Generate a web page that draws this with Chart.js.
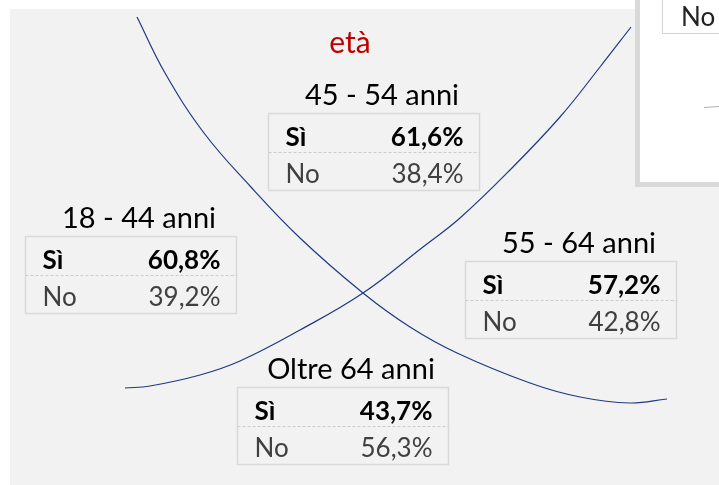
<!DOCTYPE html>
<html>
<head>
<meta charset="utf-8">
<script src="https://cdn.jsdelivr.net/npm/chart.js@4"></script>
<style>
  html, body { margin: 0; padding: 0; background: #ffffff; }
  canvas { display: block; }
</style>
</head>
<body>
<canvas id="chart" width="719" height="485"></canvas>
<script>
// data
const chartTitle = "età";
const groups = ["18 - 44 anni", "45 - 54 anni", "55 - 64 anni", "Oltre 64 anni"];
const rowLabels = ["Sì", "No"];
const siValues = [60.8, 61.6, 57.2, 43.7];
const noValues = [39.2, 38.4, 42.8, 56.3];

// the two crossing arcs
const arcDown = [
  { x: 137, y: 17 }, { x: 165, y: 73 }, { x: 204, y: 133 }, { x: 250, y: 186 },
  { x: 300, y: 238 }, { x: 363, y: 293 }, { x: 410, y: 327 }, { x: 457, y: 353 },
  { x: 530, y: 383 }, { x: 580, y: 397 }, { x: 630, y: 403 }, { x: 667, y: 399 },
];
const arcUp = [
  { x: 125, y: 388 }, { x: 150, y: 386 }, { x: 200, y: 375 }, { x: 240, y: 361 },
  { x: 300, y: 330 }, { x: 363, y: 293 }, { x: 423, y: 247 }, { x: 460, y: 218 },
  { x: 510, y: 170 }, { x: 560, y: 117 }, { x: 600, y: 67 }, { x: 631, y: 27 },
];

// layout (anchors of each table, in the same units as the scales)
const tableAnchors = [
  { x: 25, y: 236 },
  { x: 268, y: 113 },
  { x: 465, y: 261 },
  { x: 237, y: 387 },
];
const TABLE_W = 211;
const TABLE_H = 77;
const FONT = "Lato, 'Open Sans', sans-serif";

const fmt = (v) => v.toFixed(1).replace(".", ",") + "%";

const backgroundPlugin = {
  id: "panelBg",
  beforeDatasetsDraw(chart) {
    const { ctx, scales } = chart;
    const px = (v) => scales.x.getPixelForValue(v);
    const py = (v) => scales.y.getPixelForValue(v);
    ctx.save();
    // grey panel
    ctx.fillStyle = "#f2f2f2";
    ctx.fillRect(px(10), py(9), px(719) - px(10), py(485) - py(9));
    // white box of the neighbouring figure, top right
    ctx.fillStyle = "#d9d9d9";
    ctx.fillRect(px(635), py(0), px(719) - px(635), py(187) - py(0));
    ctx.fillStyle = "#ffffff";
    ctx.fillRect(px(640), py(0), px(719) - px(640), py(182) - py(0));
    ctx.strokeStyle = "#d4d4d4";
    ctx.lineWidth = 1;
    ctx.beginPath();
    ctx.moveTo(px(662) + 0.5, py(0));
    ctx.lineTo(px(662) + 0.5, py(33) + 0.5);
    ctx.lineTo(px(719), py(33) + 0.5);
    ctx.stroke();
    ctx.fillStyle = "#222222";
    ctx.font = "26px " + FONT;
    ctx.textAlign = "left";
    ctx.textBaseline = "alphabetic";
    ctx.fillText("No", px(681), py(26));
    ctx.strokeStyle = "#b0b0b0";
    ctx.beginPath();
    ctx.moveTo(px(704), py(107) + 0.5);
    ctx.lineTo(px(719), py(106) + 0.5);
    ctx.stroke();
    ctx.restore();
  },
};

const tablesPlugin = {
  id: "ageTables",
  afterDatasetsDraw(chart) {
    const { ctx, scales } = chart;
    const px = (v) => scales.x.getPixelForValue(v);
    const py = (v) => scales.y.getPixelForValue(v);
    ctx.save();
    ctx.textBaseline = "alphabetic";

    // title
    ctx.fillStyle = "#c00000";
    ctx.font = "30px " + FONT;
    ctx.textAlign = "center";
    ctx.fillText(chartTitle, px(350), py(53));

    groups.forEach((g, i) => {
      const a = tableAnchors[i];
      const x = Math.round(px(a.x)) + 0.5;
      const y = Math.round(py(a.y)) + 0.5;

      ctx.fillStyle = "#000000";
      ctx.font = "29px " + FONT;
      ctx.textAlign = "center";
      ctx.fillText(g, x + TABLE_W / 2 + 8, y - 9);

      ctx.strokeStyle = "#d9d9d9";
      ctx.lineWidth = 1.5;
      ctx.setLineDash([]);
      ctx.strokeRect(x, y, TABLE_W, TABLE_H);

      ctx.strokeStyle = "#cccccc";
      ctx.lineWidth = 1;
      ctx.setLineDash([3, 2]);
      ctx.beginPath();
      ctx.moveTo(x, y + 39);
      ctx.lineTo(x + TABLE_W, y + 39);
      ctx.stroke();
      ctx.setLineDash([]);

      // row Sì
      ctx.fillStyle = "#000000";
      ctx.font = "bold 26px " + FONT;
      ctx.textAlign = "left";
      ctx.fillText(rowLabels[0], x + 17, y + 32);
      ctx.textAlign = "right";
      ctx.fillText(fmt(siValues[i]), x + TABLE_W - 16, y + 32);

      // row No
      ctx.fillStyle = "#404040";
      ctx.font = "26px " + FONT;
      ctx.textAlign = "left";
      ctx.fillText(rowLabels[1], x + 17, y + 69);
      ctx.textAlign = "right";
      ctx.fillText(fmt(noValues[i]), x + TABLE_W - 16, y + 69);
    });
    ctx.restore();
  },
};

const ctx = document.getElementById("chart").getContext("2d");

new Chart(ctx, {
  type: "scatter",
  data: {
    datasets: [
      {
        data: arcDown,
        showLine: true,
        borderColor: "#1f3a80",
        borderWidth: 1.2,
        pointRadius: 0,
        tension: 0.4,
      },
      {
        data: arcUp,
        showLine: true,
        borderColor: "#1f3a80",
        borderWidth: 1.2,
        pointRadius: 0,
        tension: 0.4,
      },
    ],
  },
  options: {
    responsive: false,
    animation: false,
    devicePixelRatio: 1,
    layout: { padding: 0 },
    plugins: {
      legend: { display: false },
      tooltip: { enabled: false },
    },
    scales: {
      x: { type: "linear", min: 0, max: 719, display: false },
      y: { type: "linear", min: 0, max: 485, reverse: true, display: false },
    },
  },
  plugins: [backgroundPlugin, tablesPlugin],
});
</script>
</body>
</html>
